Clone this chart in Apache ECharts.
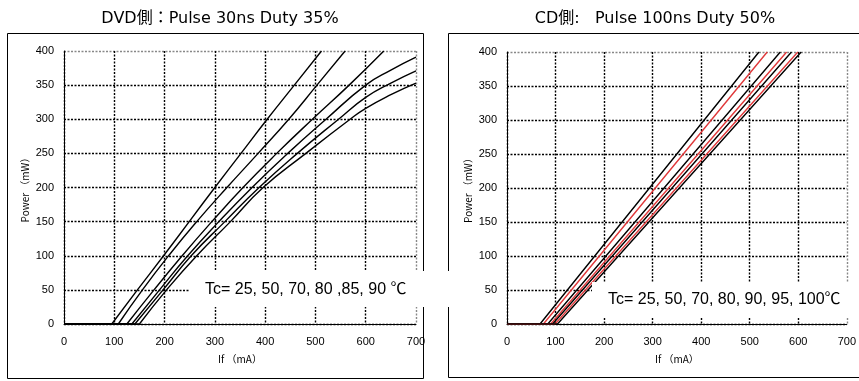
<!DOCTYPE html>
<html>
<head>
<meta charset="utf-8">
<script src="https://cdn.jsdelivr.net/npm/echarts@6/dist/echarts.min.js"></script>
<style>html,body{margin:0;padding:0;background:#fff;}#c{width:859px;height:381px;}</style>
</head>
<body>
<div id="c"></div>
<script>
// ---- DVD side: Pulse 30ns Duty 35%  (If mA, Power mW) ----
const dvdTc = ['25', '50', '70', '80', '85', '90'];
const dvd25 = [[95,0],[146,50],[198,100],[249,150],[300,200],[352,250],[404,300],[458,350],[512,400]];
const dvd50 = [[108,0],[156,50],[208,100],[264,150],[324,200],[386,250],[447,300],[503,350],[559,400]];
const dvd70 = [[125,0],[179,50],[235,100],[294,150],[356,200],[423,250],[494,300],[567,350],[636,400]];
const dvd80 = [[135,0],[190,50],[246,100],[308,150],[374,200],[445,250],[521,300],[600,350],[650,372],[700,391]];
const dvd85 = [[141,0],[197,50],[253,100],[320,150],[388,200],[464,250],[546,300],[600,332],[650,353],[700,371]];
const dvd90 = [[150,0],[204,50],[264,100],[331,150],[396,200],[481,250],[569,300],[600,316],[650,336],[700,353]];

// ---- CD side: Pulse 100ns Duty 50% ----
const cdTc = ['25', '50', '70', '80', '90', '95', '100'];
const cdThreshold = [68, 75, 84, 90, 94, 99, 104];   // mA where power leaves 0
const cdAt400 = [519, 536, 563, 576, 586, 599, 606]; // mA where power reaches 400 mW

const xTicks = { min: 0, max: 700, interval: 100 };
const yTicks = { min: 0, max: 400, interval: 50 };

const titleDVD = 'DVD側：Pulse 30ns Duty 35%';
const titleCD = 'CD側:   Pulse 100ns Duty 50%';
const noteDVD = 'Tc= 25, 50, 70, 80 ,85, 90 ℃';
const noteCD = 'Tc= 25, 50, 70, 80, 90, 95, 100℃';

const FONT = "'Liberation Sans', 'Noto Sans CJK JP', sans-serif";
const TFONT = "'DejaVu Sans', 'Noto Sans CJK JP', sans-serif";
const dvdCurves = [dvd25, dvd50, dvd70, dvd80, dvd85, dvd90];

function xAxisFor(idx) {
  return {
    type: 'value', gridIndex: idx, min: xTicks.min, max: xTicks.max, interval: xTicks.interval,
    axisLine: { show: true, onZero: false, lineStyle: { color: '#000', width: 1 } },
    axisTick: { show: false },
    axisLabel: { color: '#000', fontSize: 11, margin: 12, fontFamily: FONT },
    splitLine: { show: true, lineStyle: { color: ['#000','#000','#000','#000','#000','#000','#000','#888'], type: [2, 1.5], width: 1.4 } },
    name: 'If （mA）', nameLocation: 'middle', nameGap: 30,
    nameTextStyle: { color: '#000', fontSize: 10, fontFamily: "'Noto Sans CJK JP', sans-serif" }
  };
}
function yAxisFor(idx) {
  return {
    type: 'value', gridIndex: idx, min: yTicks.min, max: yTicks.max, interval: yTicks.interval,
    axisLine: { show: true, onZero: false, lineStyle: { color: '#000', width: 1 } },
    axisTick: { show: false },
    axisLabel: { color: '#000', fontSize: 11, margin: 10, fontFamily: FONT },
    splitLine: { show: true, lineStyle: { color: ['#000','#000','#000','#000','#000','#000','#000','#000','#888'], type: [2, 1.5], width: 1.4 } },
    name: 'Power （mW）', nameLocation: 'middle', nameGap: 34,
    nameTextStyle: { color: '#000', fontSize: 10, fontFamily: "'Noto Sans CJK JP', sans-serif" }
  };
}

const series = [];
dvdCurves.forEach(function (c, i) {
  series.push({
    name: 'DVD flat ' + dvdTc[i], type: 'line', xAxisIndex: 0, yAxisIndex: 0,
    data: [[0, 0], [c[0][0], 0]], showSymbol: false, silent: true,
    lineStyle: { color: '#000', width: 1.4 }
  });
  series.push({
    name: 'DVD Tc=' + dvdTc[i], type: 'line', xAxisIndex: 0, yAxisIndex: 0,
    data: c, smooth: 0.5, showSymbol: false,
    lineStyle: { color: '#000', width: 1.4 }
  });
});
cdTc.forEach(function (t, i) {
  series.push({
    name: 'CD Tc=' + t, type: 'line', xAxisIndex: 1, yAxisIndex: 1,
    data: [[0, 0], [cdThreshold[i], 0], [cdAt400[i], 400]], showSymbol: false,
    lineStyle: { color: i % 2 === 0 ? '#000' : '#e0393b', width: 1.4 }
  });
});

const chart = echarts.init(document.getElementById('c'), null, { renderer: 'canvas' });
chart.setOption({
  animation: false,
  backgroundColor: '#fff',
  title: [
    { text: titleDVD, left: 215, top: 6, textAlign: 'center',
      textStyle: { fontSize: 16, fontWeight: 'normal', color: '#000', fontFamily: TFONT } },
    { text: titleCD, left: 650, top: 6, textAlign: 'center',
      textStyle: { fontSize: 16, fontWeight: 'normal', color: '#000', fontFamily: TFONT } }
  ],
  grid: [
    { left: 64, top: 51, width: 352, height: 273 },
    { left: 507, top: 52, width: 348, height: 272 }
  ],
  xAxis: [xAxisFor(0), xAxisFor(1)],
  yAxis: [yAxisFor(0), yAxisFor(1)],
  series: series,
  graphic: [
    { type: 'rect', z: 100, silent: true, shape: { x: 7.5, y: 33.5, width: 416, height: 345 },
      style: { fill: 'none', stroke: '#000', lineWidth: 1 } },
    { type: 'rect', z: 100, silent: true, shape: { x: 448.5, y: 33.5, width: 430, height: 344 },
      style: { fill: 'none', stroke: '#000', lineWidth: 1 } },
    { type: 'rect', z: 101, silent: true, shape: { x: 190, y: 271, width: 262, height: 36 },
      style: { fill: '#fff', stroke: 'none' } },
    { type: 'rect', z: 101, silent: true, shape: { x: 592, y: 282, width: 280, height: 36 },
      style: { fill: '#fff', stroke: 'none' } },
    { type: 'text', z: 102, silent: true,
      style: { text: noteDVD, x: 205, y: 290, fontSize: 16, fontFamily: FONT, fill: '#000', verticalAlign: 'middle' } },
    { type: 'text', z: 102, silent: true,
      style: { text: noteCD, x: 608, y: 300, fontSize: 16, fontFamily: FONT, fill: '#000', verticalAlign: 'middle' } }
  ]
});
</script>
</body>
</html>
